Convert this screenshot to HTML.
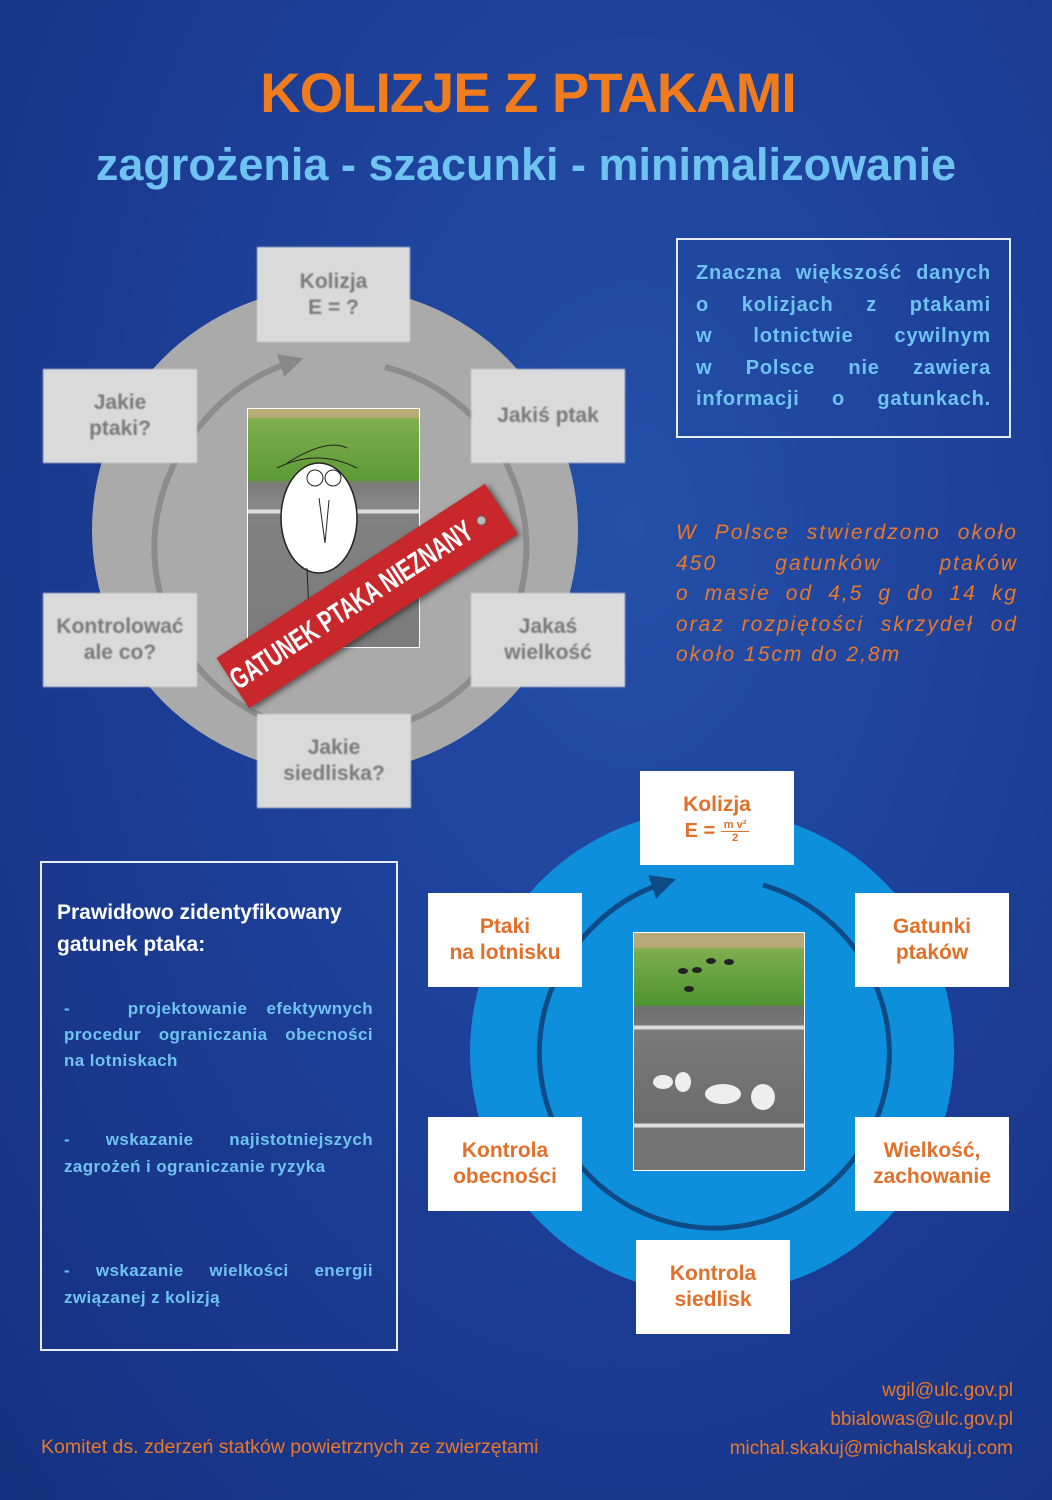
<!DOCTYPE html>
<html><head><meta charset="utf-8"><style>
*{margin:0;padding:0;box-sizing:border-box}
body{width:1052px;height:1500px;overflow:hidden;position:relative;font-family:"Liberation Sans",sans-serif;
background:radial-gradient(ellipse at 60% 35%,#2450a8 0%,#1d3f98 45%,#15307f 100%);}
.a{position:absolute}
.gb{position:absolute;background:#dadada;color:#7a7a7a;font-weight:bold;font-size:21px;line-height:26px;display:flex;align-items:center;justify-content:center;text-align:center;filter:blur(0.8px)}
.wb{position:absolute;background:#fff;color:#e0702a;font-weight:bold;font-size:21px;line-height:26px;display:flex;align-items:center;justify-content:center;text-align:center}
.jl div{text-align:justify;text-align-last:justify;white-space:nowrap}
.jl div.l{text-align-last:left}
</style></head><body>
<div class="a" style="left:0;top:60px;width:1056px;text-align:center;color:#f07c1e;font-weight:bold;font-size:56px;line-height:66px;letter-spacing:-1px">KOLIZJE Z PTAKAMI</div>
<div class="a" style="left:0;top:138px;width:1052px;text-align:center;color:#6ec3f0;font-weight:bold;font-size:45px;line-height:54px">zagrożenia - szacunki - minimalizowanie</div>

<svg class="a" style="left:0;top:0" width="1052" height="1500">
<defs><marker id="ag" markerWidth="4" markerHeight="4" refX="2" refY="2" orient="auto"><path d="M0,0L4,2L0,4z" fill="#888"/></marker>
<marker id="ab" markerWidth="5" markerHeight="5" refX="2.5" refY="2.5" orient="auto"><path d="M0,0L5,2.5L0,5z" fill="#0e4a86"/></marker></defs>
<circle cx="335" cy="530" r="243" fill="#aaaaaa"/>
<path d="M385,367 A186,186 0 1 1 205,420" fill="none" stroke="#8c8c8c" stroke-width="6"/>
<path d="M205,420 A186,186 0 0 1 292,362" fill="none" stroke="#8c8c8c" stroke-width="6" marker-end="url(#ag)"/>
<circle cx="712" cy="1052" r="242" fill="#0e8fdc"/>
<path d="M763,885 A175,175 0 1 1 590,930" fill="none" stroke="#0e4a86" stroke-width="5"/>
<path d="M590,930 A175,175 0 0 1 664,883" fill="none" stroke="#0e4a86" stroke-width="5" marker-end="url(#ab)"/>
</svg>

<div class="gb" style="left:257px;top:247px;width:153px;height:95px">Kolizja<br>E = ?</div>
<div class="gb" style="left:43px;top:369px;width:154px;height:94px">Jakie<br>ptaki?</div>
<div class="gb" style="left:471px;top:369px;width:154px;height:94px">Jakiś ptak</div>
<div class="gb" style="left:43px;top:593px;width:154px;height:94px">Kontrolować<br>ale co?</div>
<div class="gb" style="left:471px;top:593px;width:154px;height:94px">Jakaś<br>wielkość</div>
<div class="gb" style="left:257px;top:714px;width:154px;height:94px">Jakie<br>siedliska?</div>

<div class="a" style="left:247px;top:408px;width:173px;height:240px;border:1px solid #fff;background:linear-gradient(#b9ab78 0,#b9ab78 8px,#7fae4e 10px,#5d9a36 70px,#7a7a7a 75px,#8a8a8a 100px,#ddd 101px,#ddd 104px,#818181 105px,#7c7c7c 235px)"></div>
<svg class="a" style="left:247px;top:408px" width="173" height="240">
<ellipse cx="72" cy="110" rx="38" ry="55" fill="#fff" stroke="#222" stroke-width="1.5"/>
<circle cx="68" cy="70" r="8" fill="#fff" stroke="#222"/><circle cx="86" cy="70" r="8" fill="#fff" stroke="#222"/>
<path d="M30,60 Q70,40 110,60 M40,55 Q80,30 100,40" stroke="#222" fill="none"/>
<path d="M72,90 L78,135 L82,92" stroke="#222" fill="none"/>
<path d="M60,160 L62,205 L40,210" stroke="#222" fill="none"/>
</svg>
<div class="a" style="left:207px;top:566px;width:320px;height:60px;background:#c8272b;transform:rotate(-33deg);box-shadow:2px 3px 6px rgba(0,0,0,.5);overflow:hidden">
<div style="position:absolute;left:-100px;top:0;width:500px;color:#fff;font-weight:bold;font-size:30px;line-height:60px;white-space:nowrap;text-align:center;transform:translateX(-8px) scaleX(0.68)">GATUNEK PTAKA NIEZNANY</div>
<div style="position:absolute;right:18px;top:24px;width:10px;height:10px;border-radius:50%;background:#bbb;border:1px solid #666"></div></div>

<div class="a" style="left:676px;top:238px;width:335px;height:200px;border:2px solid #e8eef8"></div>
<div class="a jl" style="left:696px;top:258px;width:295px;color:#6ec3f0;font-weight:bold;font-size:20px;line-height:31.5px;letter-spacing:0.8px">
<div>Znaczna większość danych</div><div>o kolizjach z ptakami</div><div>w lotnictwie cywilnym</div><div>w Polsce nie zawiera</div><div>informacji o gatunkach.</div></div>
<div class="a jl" style="left:676px;top:518px;width:342px;color:#e8782a;font-style:italic;font-size:21px;line-height:30.5px;letter-spacing:2px">
<div>W Polsce stwierdzono około</div><div>450 gatunków ptaków</div><div>o masie od 4,5 g do 14 kg</div><div>oraz rozpiętości skrzydeł od</div><div class="l">około 15cm do 2,8m</div></div>

<div class="wb" style="left:640px;top:771px;width:154px;height:94px;flex-direction:column"><div>Kolizja</div><div style="font-size:20px">E = <span style="display:inline-block;font-size:11px;line-height:12px;vertical-align:middle;text-align:center"><span style="border-bottom:1px solid #e0702a;display:block;padding:0 3px">m v²</span>2</span></div></div>
<div class="wb" style="left:428px;top:893px;width:154px;height:94px">Ptaki<br>na lotnisku</div>
<div class="wb" style="left:855px;top:893px;width:154px;height:94px">Gatunki<br>ptaków</div>
<div class="wb" style="left:428px;top:1117px;width:154px;height:94px">Kontrola<br>obecności</div>
<div class="wb" style="left:855px;top:1117px;width:154px;height:94px">Wielkość,<br>zachowanie</div>
<div class="wb" style="left:636px;top:1240px;width:154px;height:94px">Kontrola<br>siedlisk</div>

<div class="a" style="left:633px;top:932px;width:172px;height:239px;border:1px solid #fff;background:linear-gradient(#b8a978 0,#b8a978 14px,#7fae4e 16px,#4e9430 72px,#6e6e6e 74px,#777 92px,#ddd 93px,#ddd 96px,#7a7a7a 97px,#6c6c6c 190px,#ddd 191px,#ddd 194px,#747474 195px)"></div>
<svg class="a" style="left:633px;top:932px" width="172" height="239">
<g fill="#222"><ellipse cx="50" cy="39" rx="5" ry="3"/><ellipse cx="64" cy="38" rx="5" ry="3"/><ellipse cx="78" cy="29" rx="5" ry="3"/><ellipse cx="96" cy="30" rx="5" ry="3"/><ellipse cx="56" cy="57" rx="5" ry="3"/></g>
<g fill="#eee"><ellipse cx="30" cy="150" rx="10" ry="7"/><ellipse cx="50" cy="150" rx="8" ry="10"/><ellipse cx="90" cy="162" rx="18" ry="10"/><ellipse cx="130" cy="165" rx="12" ry="13"/></g>
</svg>

<div class="a" style="left:40px;top:861px;width:358px;height:490px;border:2px solid #e8eef8"></div>
<div class="a" style="left:57px;top:897px;color:#fff;font-weight:bold;font-size:21px;line-height:32px">Prawidłowo zidentyfikowany<br>gatunek ptaka:</div>
<div class="a jl" style="left:64px;top:996px;width:309px;color:#6ec3f0;font-weight:bold;font-size:17px;line-height:26px;letter-spacing:0.4px">
<div>- &nbsp; projektowanie efektywnych</div><div>procedur ograniczania obecności</div><div class="l">na lotniskach</div></div>
<div class="a jl" style="left:64px;top:1126px;width:309px;color:#6ec3f0;font-weight:bold;font-size:17px;line-height:27px;letter-spacing:0.4px">
<div>- wskazanie najistotniejszych</div><div class="l">zagrożeń i ograniczanie ryzyka</div></div>
<div class="a jl" style="left:64px;top:1257px;width:309px;color:#6ec3f0;font-weight:bold;font-size:17px;line-height:27px;letter-spacing:0.4px">
<div>- wskazanie wielkości energii</div><div class="l">związanej z kolizją</div></div>

<div class="a" style="left:41px;top:1436px;color:#e8782a;font-size:19.5px;white-space:nowrap">Komitet ds. zderzeń statków powietrznych ze zwierzętami</div>
<div class="a" style="right:39px;top:1376px;color:#e8782a;font-size:19px;line-height:29px;text-align:right">wgil@ulc.gov.pl<br>bbialowas@ulc.gov.pl<br>michal.skakuj@michalskakuj.com</div>
</body></html>
